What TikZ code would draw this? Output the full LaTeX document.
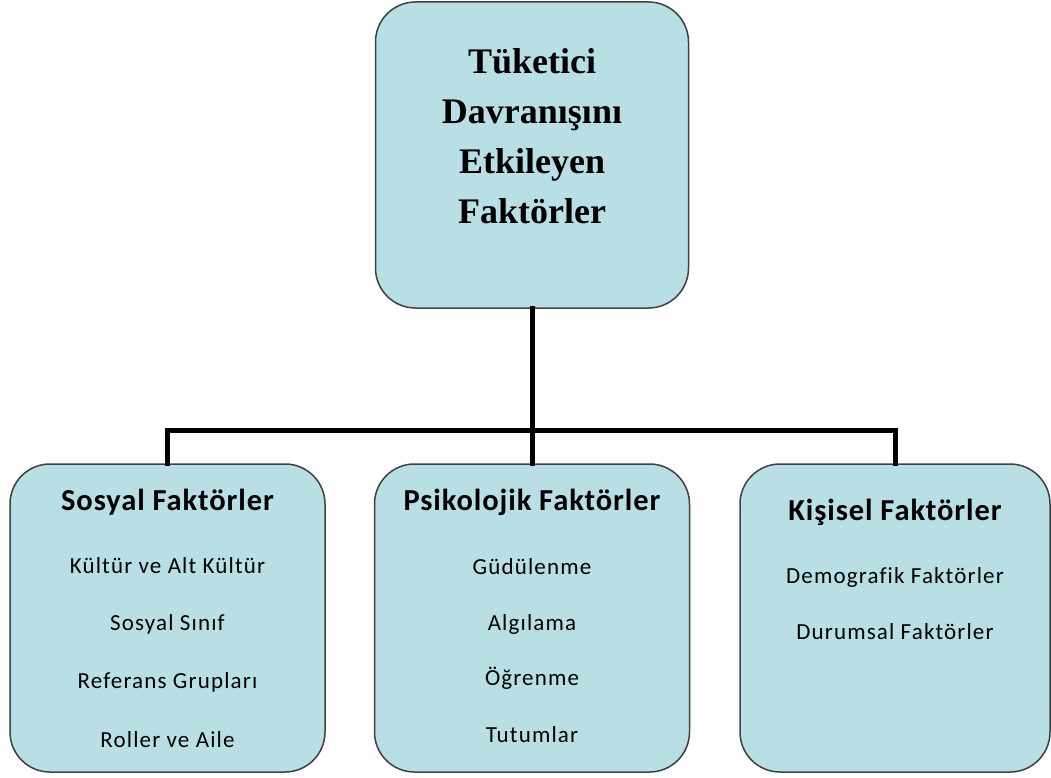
\documentclass[tikz,border=0pt]{standalone}
\usepackage{fontspec}
\setmainfont{Liberation Serif}
\newfontfamily\maddefont[LetterSpace=5,Ligatures=NoCommon]{Carlito}
\newfontfamily\baslikfont[LetterSpace=3,Ligatures=NoCommon]{Carlito}
\definecolor{kutumavi}{RGB}{184,223,227}
\definecolor{kenar}{RGB}{64,64,64}

\begin{document}
\begin{tikzpicture}[line cap=rect,line join=miter,x=1pt,y=-1pt,
		kutu/.style={draw=kenar,line width=1.5pt,fill=kutumavi,rounded corners=40pt,inner sep=0pt,minimum width=315pt,minimum height=308pt},
		baslik/.style={anchor=base,inner sep=0pt,font=\baslikfont\bfseries\fontsize{30.5}{36}\selectfont},
		madde/.style={anchor=base,inner sep=0pt,font=\maddefont\fontsize{23}{28}\selectfont},
		dal/.style={line width=5pt,black}]
	\useasboundingbox (0,0) rectangle (1051,778);
	% kutular
	\node[kutu,minimum width=313pt,minimum height=306pt] (tuketici) at (532,155) {};
	\node[kutu] (sosyal) at (167.5,618) {};
	\node[kutu] (psikolojik) at (532,618) {};
	\node[kutu,minimum width=310pt] (kisisel) at (895,618) {};
	% baglantilar
	\coordinate (catal) at (532,430);
	\draw [dal] (tuketici.south) -- (catal);
	\draw [dal] (sosyal.north) |- (catal) -| (kisisel.north);
	\draw [dal] (catal) -- (psikolojik.north);
	% ust kutu yazisi
	\node[align=center,inner sep=0pt,font=\bfseries\fontsize{36}{50}\selectfont] (ustyazi) at (532,136) {Tüketici\\Davranışını\\Etkileyen\\Faktörler};
	% sosyal
	\node[baslik] (sb) at (167.5,510) {Sosyal Faktörler};
	\node[madde] (s1) at (167.5,573) {Kültür ve Alt Kültür};
	\node[madde] (s2) at (167.5,630) {Sosyal Sınıf};
	\node[madde] (s3) at (167.5,688) {Referans Grupları};
	\node[madde] (s4) at (167.5,747) {Roller ve Aile};
	% psikolojik
	\node[baslik] (pb) at (532,510) {Psikolojik Faktörler};
	\node[madde] (p1) at (532,574) {Güdülenme};
	\node[madde] (p2) at (532,630) {Algılama};
	\node[madde] (p3) at (532,685) {Öğrenme};
	\node[madde] (p4) at (532,742) {Tutumlar};
	% kisisel
	\node[baslik] (kb) at (895,520) {Kişisel Faktörler};
	\node[madde] (k1) at (895,583) {Demografik Faktörler};
	\node[madde] (k2) at (895,639) {Durumsal Faktörler};
\end{tikzpicture}
\end{document}
